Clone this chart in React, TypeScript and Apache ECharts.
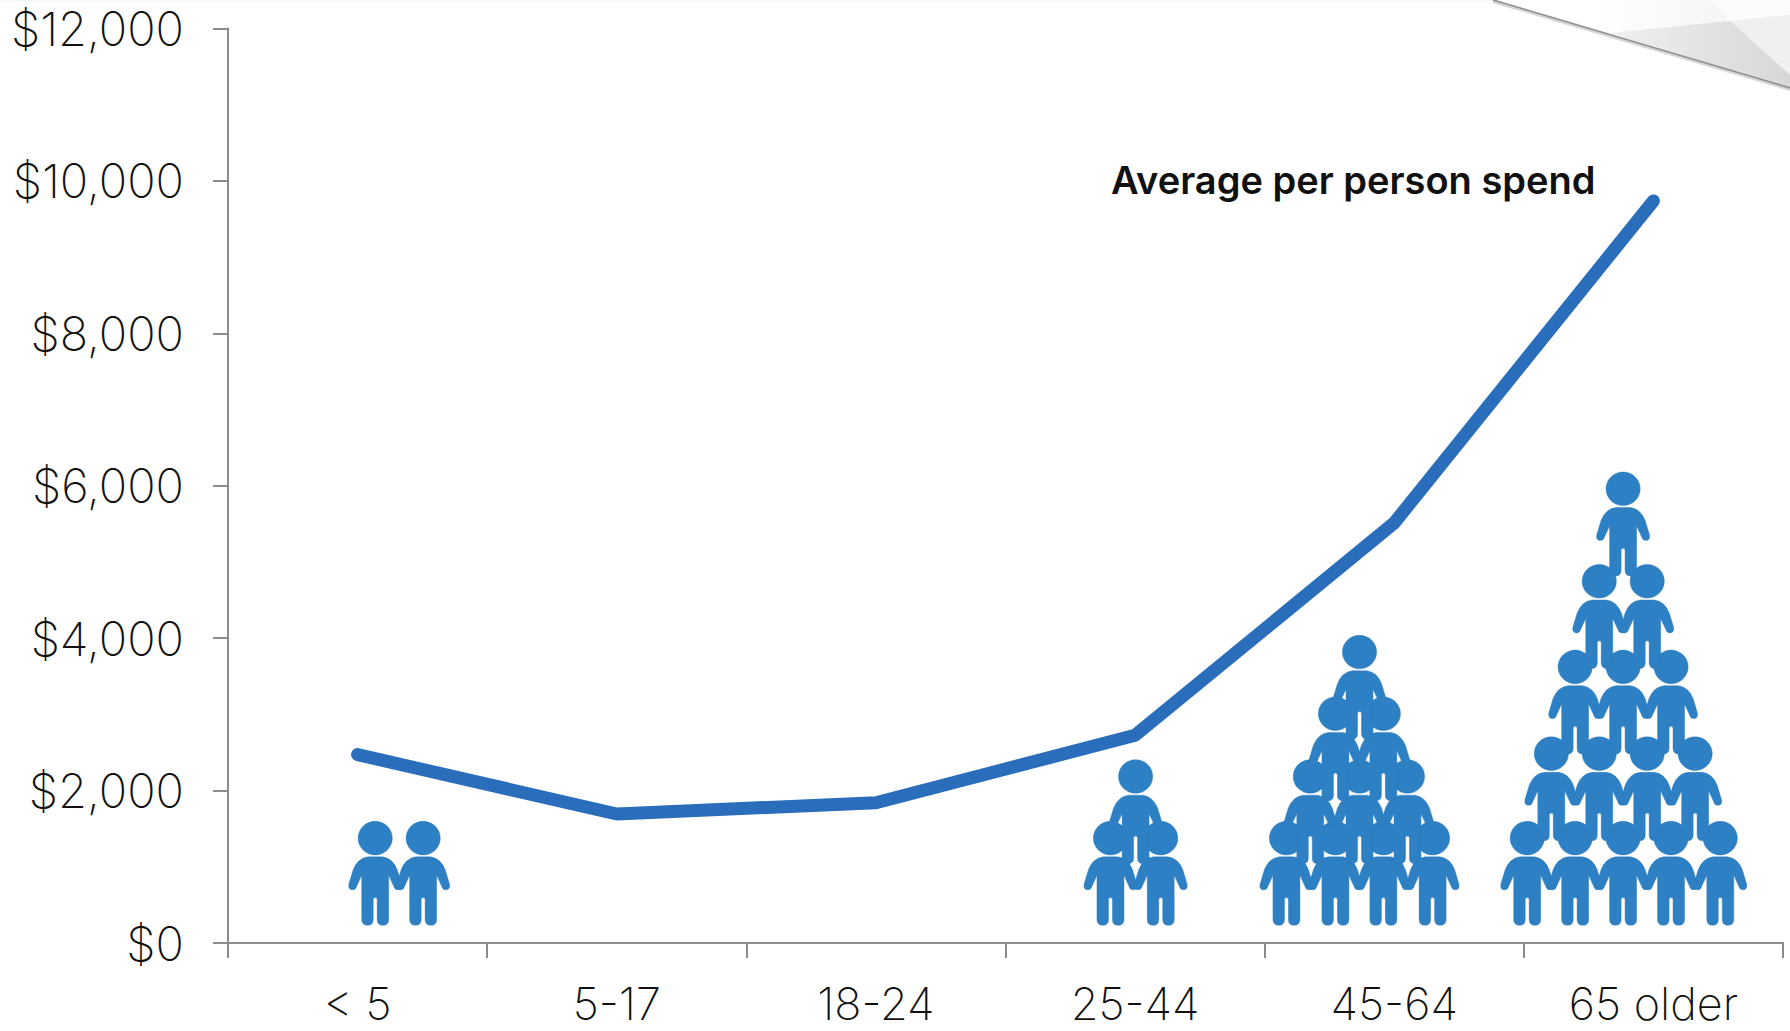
import React, { useEffect, useRef } from "react";
import * as echarts from "echarts";

const categories = ["< 5", "5-17", "18-24", "25-44", "45-64", "65 older"];
const averageSpend = [2472, 1693, 1840, 2725, 5513, 9738];
const yTicks = { min: 0, max: 12000, interval: 2000 };
const annotation = "Average per person spend";

// person icons: [position along the category axis, height in dollars]
const peopleUnder5 = [[0.568, 914], [0.753, 914]];
const people25to44 = [[3.405, 914], [3.599, 914], [3.502, 1723]];
const people45to64 = [
  [4.084, 914], [4.273, 914], [4.458, 914], [4.648, 914],
  [4.176, 1723], [4.366, 1723], [4.551, 1723],
  [4.273, 2547], [4.458, 2547],
  [4.366, 3356],
];
const people65older = [
  [5.013, 914], [5.198, 914], [5.383, 914], [5.568, 914], [5.758, 914],
  [5.106, 2023], [5.291, 2023], [5.476, 2023], [5.661, 2023],
  [5.198, 3161], [5.383, 3161], [5.568, 3161],
  [5.291, 4285], [5.476, 4285],
  [5.383, 5498],
];

const personPath =
  "path://M83,110 A52,52 0 1 1 187,110 A52,52 0 1 1 83,110 Z " +
  "M113,168 L157,168 Q188,172 202,208 L215,252 Q218,270 204,270 Q194,270 191,258 L176,225 L176,362 " +
  "Q176,380 158,380 Q141,380 141,362 L141,298 Q135,290 129,298 L129,362 Q129,380 112,380 Q94,380 94,362 " +
  "L94,225 L79,258 Q76,270 66,270 Q52,270 55,252 L68,208 Q82,172 113,168 Z";

const FONT = "Inter, sans-serif";

export default function App() {
  const ref = useRef<HTMLDivElement>(null);
  useEffect(() => {
    document.body.style.margin = "0";
    const chart = echarts.init(ref.current!, undefined, { renderer: "svg" });
    chart.setOption({
      animation: false,
      backgroundColor: "#ffffff",
      grid: { left: 228, right: 7, top: 28.5, bottom: 88, containLabel: false },
      xAxis: [
        {
          type: "category",
          data: categories,
          boundaryGap: true,
          axisLine: { lineStyle: { color: "#8c8c8c", width: 2 } },
          axisTick: { show: true, alignWithLabel: false, length: 15, lineStyle: { color: "#8c8c8c", width: 2 } },
          axisLabel: { color: "#111111", fontFamily: FONT, fontWeight: 200, fontSize: 45, lineHeight: 45, margin: 38, interval: 0 },
        },
        { type: "value", min: 0, max: 6, show: false },
      ],
      yAxis: {
        type: "value",
        min: yTicks.min,
        max: yTicks.max,
        interval: yTicks.interval,
        splitLine: { show: false },
        axisLine: { show: true, lineStyle: { color: "#8c8c8c", width: 2 } },
        axisTick: { show: true, length: 15, lineStyle: { color: "#8c8c8c", width: 2 } },
        axisLabel: {
          color: "#111111",
          fontFamily: FONT,
          fontWeight: 200,
          fontSize: 47,
          margin: 44,
          formatter: (v: number) => "$" + v.toLocaleString("en-US"),
        },
      },
      series: [
        ...[peopleUnder5, people25to44, people45to64, people65older].map((d) => ({
          type: "scatter",
          xAxisIndex: 1,
          yAxisIndex: 0,
          data: d,
          symbol: personPath,
          symbolSize: [53, 104],
          itemStyle: { color: "#2e80c4", borderColor: "#2a76b5", borderWidth: 0.4, opacity: 1 },
          silent: true,
        })),
        {
          type: "line",
          xAxisIndex: 0,
          yAxisIndex: 0,
          data: averageSpend,
          showSymbol: false,
          symbol: "none",
          lineStyle: { color: "#2a6dbb", width: 13, cap: "round", join: "round" },
        },
      ],
      graphic: [
        {
          type: "polygon",
          shape: { points: [[1493, 0], [1790, 88], [1790, 0]] },
          style: {
            fill: new echarts.graphic.LinearGradient(0, 0, 1, 0, [
              { offset: 0, color: "#ffffff" },
              { offset: 0.33, color: "#ffffff" },
              { offset: 0.75, color: "#f5f6f5" },
              { offset: 1, color: "#f5f6f5" },
            ]),
          },
        },
        {
          type: "polygon",
          shape: { points: [[1610, 33], [1790, 15], [1790, 88]] },
          style: {
            fill: new echarts.graphic.LinearGradient(0, 0, 1, 0, [
              { offset: 0, color: "#eff0f0" },
              { offset: 1, color: "#d6d7d9" },
            ]),
          },
        },
        {
          type: "polygon",
          shape: { points: [[1710, 0], [1790, 0], [1790, 15], [1730, 21]] },
          style: { fill: "#fcfcfc" },
        },
        {
          type: "polygon",
          shape: { points: [[1730, 21], [1790, 15], [1790, 75]] },
          style: { fill: "#f0f0f0" },
        },
        { type: "line", shape: { x1: 1493, y1: 1, x2: 1790, y2: 89 }, style: { stroke: "rgba(120,120,120,0.3)", lineWidth: 4 } },
        { type: "line", shape: { x1: 1493, y1: 0, x2: 1790, y2: 88 }, style: { stroke: "#8f8f8f", lineWidth: 1.5 } },
        { type: "rect", shape: { x: 0, y: 0, width: 1493, height: 1.5 }, style: { fill: "#f3f8fb" } },
        {
          type: "text",
          x: 1111,
          y: 180,
          style: {
            text: annotation,
            fill: "#111111",
            font: "600 38px Inter, sans-serif",
            textVerticalAlign: "middle",
          },
        },
      ],
    });
    return () => chart.dispose();
  }, []);
  return <div ref={ref} style={{ width: 1790, height: 1031 }} />;
}
